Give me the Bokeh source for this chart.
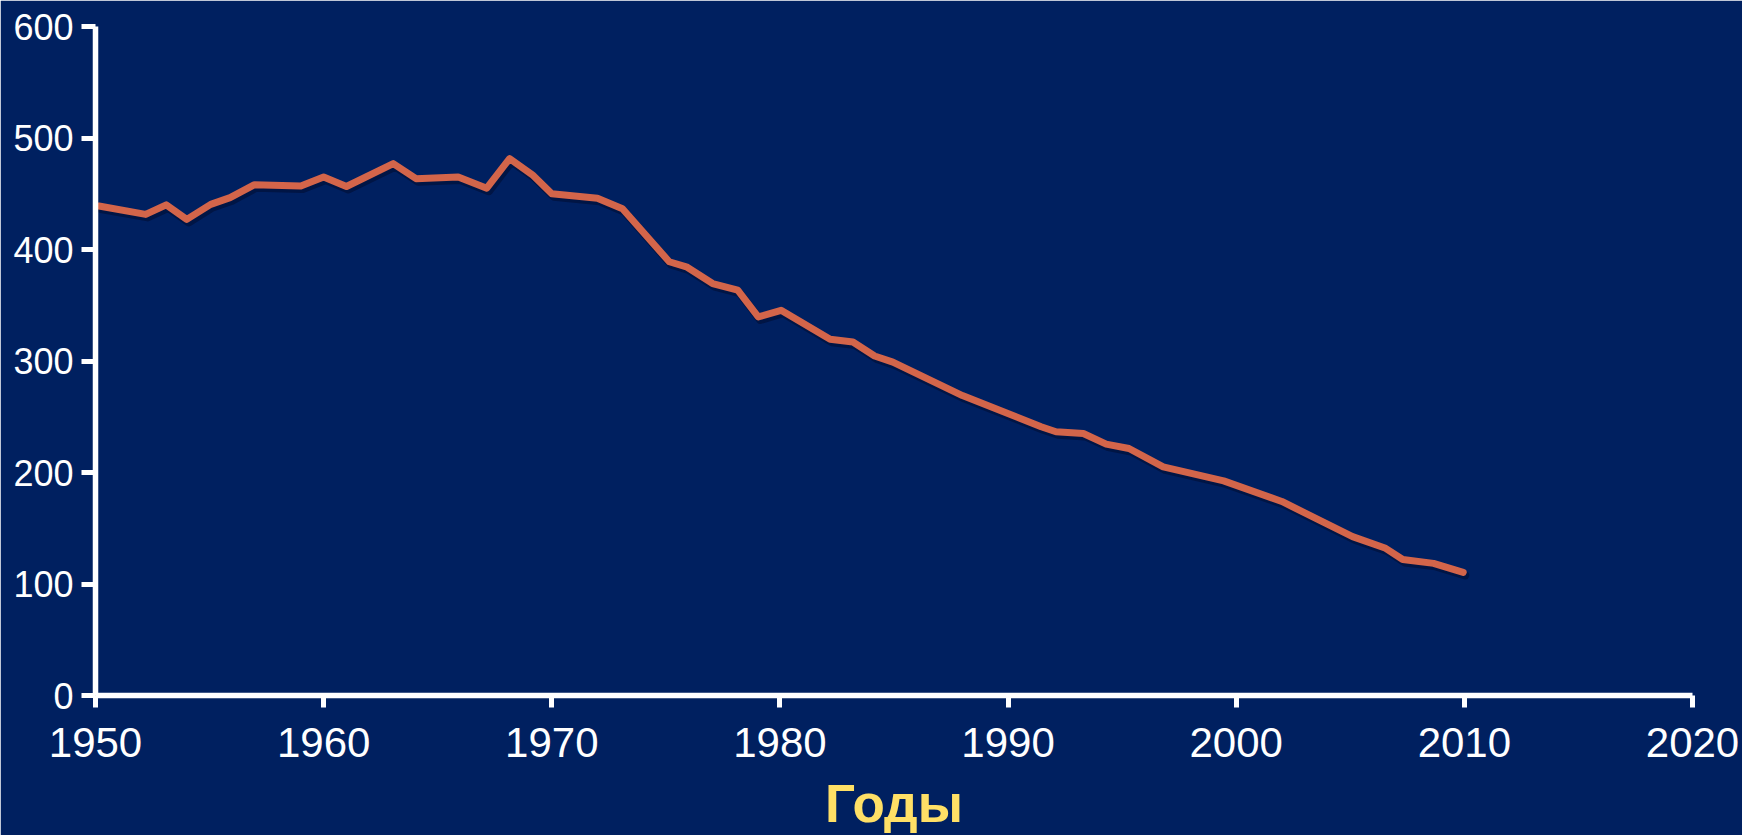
from bokeh.plotting import figure
from bokeh.models import Range1d, FixedTicker, LinearAxis
from bokeh.embed import file_html
from bokeh.resources import INLINE

# Data
years = [1950.15, 1952.2, 1953.1, 1954.0, 1955.05, 1955.9, 1956.95, 1959.0, 1960.0, 1961.0,
         1963.05, 1964.05, 1965.9, 1967.15, 1968.15, 1969.15, 1970.0, 1972.0, 1973.1, 1975.15,
         1975.9, 1977.05, 1978.15, 1979.05, 1980.05, 1982.2, 1983.2, 1984.15, 1984.95, 1988.0,
         1991.45, 1992.1, 1993.3, 1994.3, 1995.3, 1996.8, 1999.45, 2002.0, 2005.1, 2006.55,
         2007.3, 2008.65, 2009.95]
values = [439, 431.5, 440, 427, 440.5, 446.5, 458, 457, 465, 456.5,
          477, 463.5, 465, 455, 481.5, 467, 450, 446, 436.5, 389,
          384.5, 369.5, 363.5, 339.5, 345.5, 319.5, 317, 304.5, 299, 269,
          241, 236.5, 235, 225.5, 221.5, 205, 192.5, 174, 142.5, 132,
          122, 118.5, 110.5]

x_ticks = [1950, 1960, 1970, 1980, 1990, 2000, 2010, 2020]
y_ticks = [0, 100, 200, 300, 400, 500, 600]
x_title = "Годы"

BG = "#002060"
FONT = "Liberation Sans"

p = figure(width=1742, height=835, output_backend="svg", toolbar_location=None,
           x_range=Range1d(1950, 2020), y_range=Range1d(0, 600),
           x_axis_location=None, y_axis_location=None,
           min_border_left=95, min_border_right=50, min_border_top=26, min_border_bottom=139)
p.background_fill_color = BG
p.border_fill_color = BG
p.outline_line_color = BG
p.outline_line_width = 2
p.xgrid.visible = False
p.ygrid.visible = False

# shadow ranges (shifted a few pixels down/right)
p.extra_x_ranges = {"sx": Range1d(1950 - 0.09, 2020 - 0.09)}
p.extra_y_ranges = {"sy": Range1d(0 + 2.7, 600 + 2.7)}

xaxis = LinearAxis(ticker=FixedTicker(ticks=x_ticks))
yaxis = LinearAxis(ticker=FixedTicker(ticks=y_ticks))
for ax in (xaxis, yaxis):
    ax.axis_line_color = "white"
    ax.axis_line_width = 5.5
    ax.major_tick_line_color = "white"
    ax.major_tick_line_width = 5
    ax.major_tick_in = 0
    ax.minor_tick_line_color = None
    ax.major_label_text_color = "white"
    ax.major_label_text_font = FONT
xaxis.major_tick_out = 12
xaxis.major_label_text_font_size = "42px"
xaxis.major_label_standoff = 20
xaxis.axis_label = x_title
xaxis.axis_label_text_font = FONT
xaxis.axis_label_text_font_size = "53px"
xaxis.axis_label_text_font_style = "bold"
xaxis.axis_label_text_color = "#FFE066"
xaxis.axis_label_standoff = 14
yaxis.major_tick_out = 14
yaxis.major_label_text_font_size = "36px"
yaxis.major_label_standoff = 8
p.add_layout(xaxis, "below")
p.add_layout(yaxis, "left")

# shadow
p.line(years, values, line_color="#000a2a", line_alpha=0.5, line_width=8,
       line_join="round", line_cap="round", x_range_name="sx", y_range_name="sy")
# main line
p.line(years, values, line_color="#D3654A", line_width=7, line_join="round", line_cap="round")

open("out.html", "w").write(file_html(p, INLINE))
